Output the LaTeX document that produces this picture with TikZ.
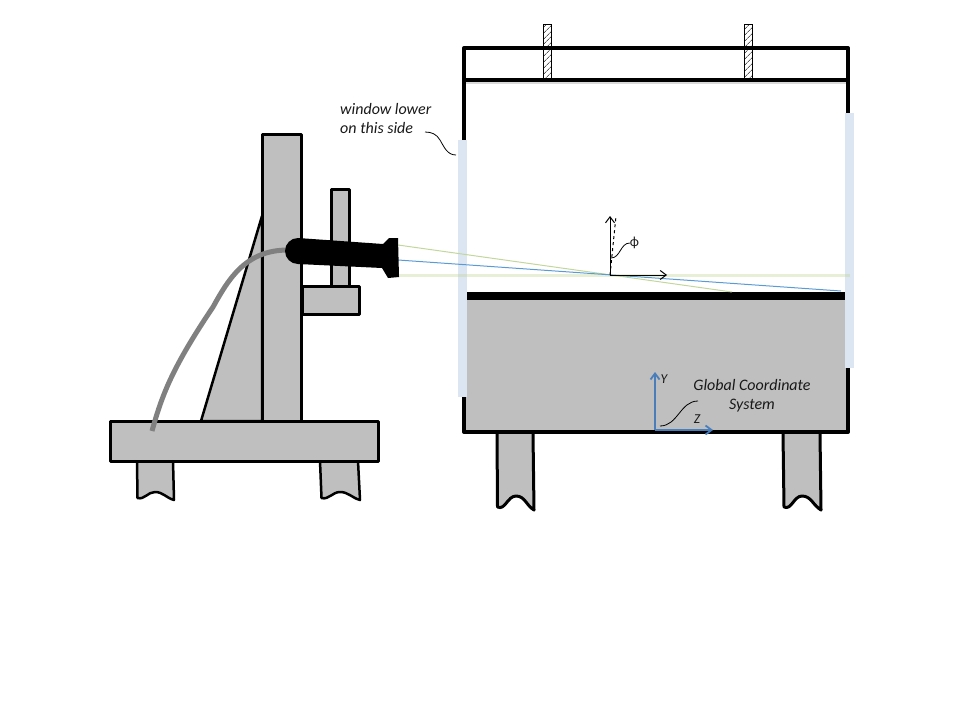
\documentclass[tikz,border=0pt]{standalone}
\usepackage{fontspec}
\setmainfont{Carlito}
\usetikzlibrary{patterns.meta, arrows.meta}
\newcommand{\cf}{\itshape\fontsize{16}{19}\selectfont}
\definecolor{steel}{HTML}{BFBFBF}
\definecolor{glass}{HTML}{DCE6F2}
\definecolor{axisblue}{HTML}{4A7EBB}
\definecolor{beamblue}{HTML}{5B9BD5}
\definecolor{beamgreen}{HTML}{C3D69B}
\tikzset{
    part/.style={draw=black, fill=steel, line width=3pt, line join=round},
    wall/.style={draw=black, line width=4pt, line join=round},
    pane/.style={fill=glass},
    bolt/.style={draw=black, line width=0.8pt, pattern={Lines[angle=45, distance=4pt, line width=0.5pt]}},
    leader/.style={draw=black, line width=0.8pt},
    label/.style={inner sep=0pt, text=black!90},
    barb/.style={>={Straight Barb[length=6pt, width=9pt]}},
}

\begin{document}
\begin{tikzpicture}[x=1pt, y=-1pt]
    \useasboundingbox (0,0) rectangle (960,720);

    % stand
    \draw [part, line width=2.5pt] (137,461) -- (137.5,498) to [out=-15,in=180] (155,492) to [out=0,in=165] (174,500) -- (173,461) -- cycle;
    \draw [part, line width=2.5pt] (320,461) -- (321.5,498) to [out=-15,in=180] (340,492) to [out=0,in=165] (360,500) -- (358,461) -- cycle;
    \draw [part, line width=2.5pt] (262,216) -- (201,421) -- (262,421) -- cycle;
    \draw [part] (262.5,134.5) rectangle (301.5,421);
    \draw [part] (331,189.5) rectangle (349,286);
    \draw [part] (302,286) rectangle (359,314);
    \draw [part] (110.5,421.5) rectangle (378,461);

    % tank
    \fill [steel] (466,297) rectangle (846,430);
    \draw [draw=none, fill=black] (467,292) rectangle (845,300);
    \draw [wall] (464,397) -- (464,432) -- (848,432) -- (848,368);
    \draw [wall] (464,140) -- (464,48) -- (848,48) -- (848,113);
    \draw [gray, opacity=0.3, line width=1.5pt] (466,83) -- (846,83);
    \draw [wall] (464,80) -- (848,80);
    \draw [bolt] (543.5,24.5) rectangle (551.5,78);
    \draw [bolt] (744.5,24.5) rectangle (752.5,78);
    \fill [pane] (458,140) rectangle (467,397);
    \fill [pane] (845,113) rectangle (854,368);

    % legs
    \draw [part] (497,434) -- (497.5,507) to [out=-25,in=180] (516,496) to [out=0,in=150] (534,510) -- (533,434);
    \draw [part] (783,434) -- (784,507) to [out=-25,in=180] (802,496) to [out=0,in=150] (821,510) -- (820,434);

    % beams
    \coordinate (lens top) at (398,245);
    \coordinate (lens mid) at (398,260);
    \coordinate (lens low) at (398,275);
    \coordinate (green end) at (732,292);
    \coordinate (blue end) at (841,291);
    \coordinate (green far) at (850,275);
    \draw [beamgreen, opacity=0.4, line width=3pt] (lens low) -- (green far);
    \draw [beamgreen, line width=1pt] (lens top) -- (green end);
    \draw [beamblue, line width=1pt] (lens mid) -- (blue end);

    % probe
    \draw [gray, line width=5pt] (152,431) .. controls (162,395) and (172,368) .. (213,307) .. controls (228,280) and (245,250) .. (288,250);
    \fill [black] (298,238) arc (-90:-270:13) -- (382,268) -- (388,278) -- (399,277) -- (398,238) -- (389,238) -- (383,244) -- cycle;

    % incidence
    \coordinate (hit) at (610,275);
    \coordinate (hit up) at (610,216);
    \coordinate (hit right) at (667,275);
    \coordinate (hit tilt) at (616,216);
    \draw [->, barb, line width=1pt] (hit) -- (hit up);
    \draw [->, barb, line width=1pt] (hit) -- (hit right);
    \draw [dashed, line width=1pt] (hit) -- (hit tilt);
    \node [label, font=\fontsize{14}{16}\selectfont] (phi) at (634.5,243) {ϕ};
    \coordinate (phi foot) at (611,258);
    \draw [leader] (phi foot) to [out=0,in=180] (phi.west);

    % global axes
    \coordinate (origin) at (655,430);
    \coordinate (axis y) at (655,372);
    \coordinate (axis z) at (713,430);
    \draw [->, barb, axisblue, line width=1.8pt] (origin) -- (axis y);
    \draw [->, barb, axisblue, line width=1.8pt] (origin) -- (axis z);
    \node [label, font=\cf, scale=0.85] (y label) at (664,379.5) {Y};
    \node [label, font=\cf, scale=0.85] (z label) at (697,419) {Z};

    % labels
    \node [label, font=\cf, align=center] (global) at (752,396) {Global Coordinate\\System};
    \coordinate (global foot) at (660,426);
    \coordinate (global top) at (698,401);
    \draw [leader] (global foot) to [out=0,in=180] (global top);

    \node [label, font=\cf, align=left, anchor=north west] (window) at (340,103.5) {window lower\\on this side};
    \coordinate (window foot) at (456,155);
    \coordinate (window top) at (425,132);
    \draw [leader] (window foot) to [out=180,in=-60] (440,140) to [out=120,in=0] (window top);
\end{tikzpicture}
\end{document}
